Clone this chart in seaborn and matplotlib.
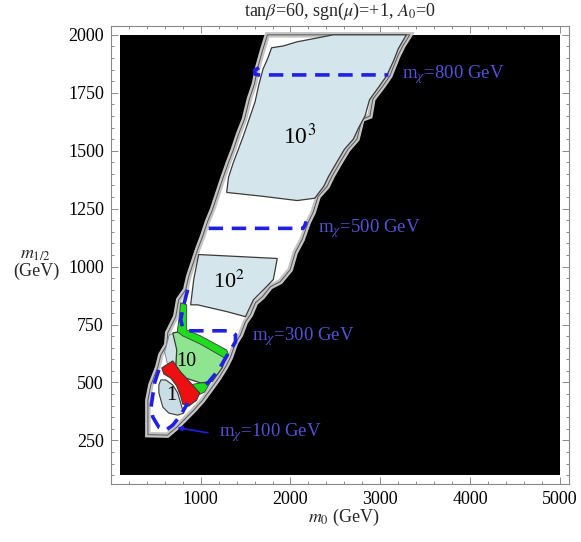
import matplotlib
matplotlib.use("Agg")
import matplotlib.pyplot as plt
import seaborn as sns

# excluded (black) parameter box
box_m0 = [100, 5000]
box_m12 = [100, 2000]

# allowed (white) wedge: left edge bottom->top, then right edge top->bottom
allowed_m0 = [413, 413, 446, 524, 557, 623, 634, 723, 756, 834, 867, 923, 967, 1022, 1078,
              1133, 1200, 1244, 1311, 1366, 1422, 1488, 1543, 1599, 1632, 1688, 1743,
              3328, 3250, 3195, 3106, 3028, 2917, 2884, 2795, 2740, 2640, 2552, 2463, 2408,
              2308, 2252, 2197, 2130, 2053, 1997, 1886, 1776, 1688, 1610, 1554, 1499, 1444,
              1388, 1333, 1277, 1200, 1145, 1022, 923, 834, 734, 630]
allowed_m12 = [275, 424, 489, 567, 619, 662, 714, 784, 857, 900, 957, 1022, 1074, 1130, 1195,
               1247, 1325, 1377, 1450, 1506, 1571, 1636, 1723, 1788, 1853, 1931, 2000,
               2000, 1952, 1909, 1823, 1779, 1723, 1649, 1636, 1550, 1506, 1450, 1390, 1346,
               1303, 1234, 1191, 1117, 1061, 987, 935, 913, 870, 844, 792, 762, 706,
               671, 610, 567, 519, 489, 424, 381, 346, 307, 273]

# omega h^2 ~ 10^3 band
r1000_m0 = [1290, 1310, 1365, 1420, 1475, 1540, 1605, 1650, 1695, 1745, 1790, 1920, 2075, 2252,
            2474, 3290, 3200, 3150, 3070, 2990, 2880, 2830, 2760, 2700, 2600, 2515, 2425, 2370,
            2270, 2075, 1699]
r1000_m12 = [1320, 1385, 1450, 1506, 1563, 1636, 1710, 1788, 1853, 1896, 1944, 1952, 1970, 1983,
             2000, 2000, 1940, 1890, 1823, 1779, 1720, 1650, 1600, 1550, 1506, 1450, 1390, 1346,
             1295, 1285, 1303]

# omega h^2 ~ 10^2 band
r100_m0 = [978, 1444, 1853, 1809, 1699, 1588, 1499, 1300, 967, 889, 923]
r100_m12 = [1052, 1043, 1035, 944, 900, 857, 784, 805, 835, 835, 944]

# omega h^2 ~ 10 band
r10_m0 = [690, 834, 1000, 1167, 1290, 1240, 1130, 1000, 834, 723, 734]
r10_m12 = [714, 723, 693, 654, 620, 563, 505, 498, 519, 563, 641]

# bright green edges
g_up_m0 = [778, 845, 845, 1000, 1290, 1310, 1270, 1000, 801, 740, 760]
g_up_m12 = [844, 835, 727, 701, 640, 622, 605, 665, 701, 719, 779]
g_lo_m0 = [867, 1000, 1110, 1044, 970, 900]
g_lo_m12 = [489, 498, 500, 459, 445, 470]

# grey-blue patch left of the green band
patch_m0 = [650, 712, 745, 723, 640, 600]
patch_m12 = [705, 714, 641, 576, 563, 632]

# red band
red_m0 = [568, 690, 778, 889, 989, 956, 867, 801, 778, 734, 668, 590]
red_m12 = [563, 593, 545, 498, 455, 424, 398, 407, 441, 485, 519, 537]

# omega h^2 ~ 1 region
r1_m0 = [557, 612, 690, 745, 778, 801, 812, 745, 645, 579, 535, 535]
r1_m12 = [511, 511, 489, 455, 411, 381, 368, 359, 368, 394, 455, 489]

# neutralino mass contours
mx800_m0 = [1650, 1600, 1605, 1640, 3090]
mx800_m12 = [1858, 1847, 1830, 1827, 1827]
mx500_m0 = [1089, 2141, 2160, 2175]
mx500_m12 = [1165, 1165, 1178, 1195]
mx300_m0 = [856, 812, 778, 801, 867, 1333, 1388, 1388, 1311, 1200, 1089, 1000]
mx300_m12 = [900, 835, 771, 736, 723, 723, 706, 675, 628, 554, 502, 468]
mx100_m0 = [535, 490, 468, 446, 468, 535, 612, 690, 778, 856]
mx100_m12 = [554, 502, 446, 390, 351, 307, 294, 316, 359, 411]

mx_labels = [r"m$_\chi$=800 GeV", r"m$_\chi$=500 GeV", r"m$_\chi$=300 GeV", r"m$_\chi$=100 GeV"]
mx_label_m0 = [3239, 2308, 1577, 1199]
mx_label_m12 = [1827, 1165, 700, 286]

band_labels = [r"10$^3$", r"10$^2$", "10", "1"]
band_label_m0 = [2097, 1311, 845, 675]
band_label_m12 = [1563, 935, 589, 446]
band_label_size = [17, 16, 14.5, 15]

sns.set_theme(style="ticks")
plt.rcParams["font.family"] = ["Liberation Serif", "DejaVu Serif"]
plt.rcParams["mathtext.fontset"] = "stix"

fig = plt.figure(figsize=(5.81, 5.42), dpi=100)
ax = fig.add_axes([0.191, 0.107, 0.788, 0.845])

ax.fill_between(box_m0, box_m12[0], box_m12[1], color="black", lw=0, zorder=0)

ax.fill(allowed_m0, allowed_m12, facecolor="white", edgecolor="#c4c4c4", lw=4, zorder=1)
ax.fill(allowed_m0, allowed_m12, facecolor="none", edgecolor="#555555", lw=0.7, zorder=1.1)

edge = "#3a3a3a"
ax.fill(r1000_m0, r1000_m12, facecolor="#d4e6ec", edgecolor=edge, lw=0.9, zorder=2)
ax.fill(r100_m0, r100_m12, facecolor="#d4e6ec", edgecolor=edge, lw=0.9, zorder=2)
ax.fill(patch_m0, patch_m12, facecolor="#cfe0e6", edgecolor="#777777", lw=0.6, zorder=2)
ax.fill(r10_m0, r10_m12, facecolor="#8fe58f", edgecolor=edge, lw=0.9, zorder=2)
ax.fill(g_up_m0, g_up_m12, facecolor="#1fdc1f", edgecolor=edge, lw=0.6, zorder=2.1)
ax.fill(g_lo_m0, g_lo_m12, facecolor="#1fdc1f", edgecolor=edge, lw=0.6, zorder=2.1)
ax.fill(red_m0, red_m12, facecolor="#ee1010", edgecolor=edge, lw=0.8, zorder=2.2)
ax.fill(r1_m0, r1_m12, facecolor="#c9dde5", edgecolor=edge, lw=0.8, zorder=2.3)

dash_color = "#1f1fe6"
for xs, ys in [(mx800_m0, mx800_m12), (mx500_m0, mx500_m12),
               (mx300_m0, mx300_m12), (mx100_m0, mx100_m12)]:
    sns.lineplot(x=xs, y=ys, sort=False, estimator=None, ax=ax, color=dash_color,
                 lw=2.6, linestyle=(0, (4, 2.4)), zorder=3)

label_color = "#5252d2"
for txt, lx, ly in zip(mx_labels, mx_label_m0, mx_label_m12):
    ax.text(lx, ly, txt, color=label_color, fontsize=13.5, ha="left", va="center", zorder=4)

# pointer from the 100 GeV label
ax.annotate("", xy=(740, 305), xytext=(1080, 283),
            arrowprops=dict(arrowstyle="-|>", color=dash_color, lw=1.2,
                            mutation_scale=7, shrinkA=0, shrinkB=0), zorder=4)

for txt, lx, ly, fs in zip(band_labels, band_label_m0, band_label_m12, band_label_size):
    ax.text(lx, ly, txt, color="black", fontsize=fs, ha="center", va="center", zorder=4)

ax.set_xlim(2, 5098)
ax.set_ylim(62, 2038)
ax.set_xticks([1000, 2000, 3000, 4000, 5000])
ax.set_yticks([250, 500, 750, 1000, 1250, 1500, 1750, 2000])
ax.set_xticks(range(200, 5001, 200), minor=True)
ax.set_yticks(range(100, 2001, 50), minor=True)
ax.tick_params(which="both", direction="in", top=True, right=True, colors="#777777",
               labelcolor="black", labelsize=13, width=0.6)
ax.tick_params(which="major", length=5, pad=5)
ax.tick_params(which="minor", length=2.5)
for sp in ax.spines.values():
    sp.set_color("#888888")
    sp.set_linewidth(0.8)

ax.set_title(r"tan$\beta$=60, sgn($\mu$)=+1, $A_0$=0", fontsize=13, pad=7)
ax.text(0.509, -0.074, r"$m_0$ (GeV)", transform=ax.transAxes, fontsize=13,
        ha="center", va="center")
ax.text(-0.164, 0.482, "$m_{1/2}$\n(GeV)", transform=ax.transAxes, fontsize=13,
        ha="center", va="center", multialignment="center", linespacing=1.0)

fig.savefig("out.png", dpi=100)
plt.close(fig)
